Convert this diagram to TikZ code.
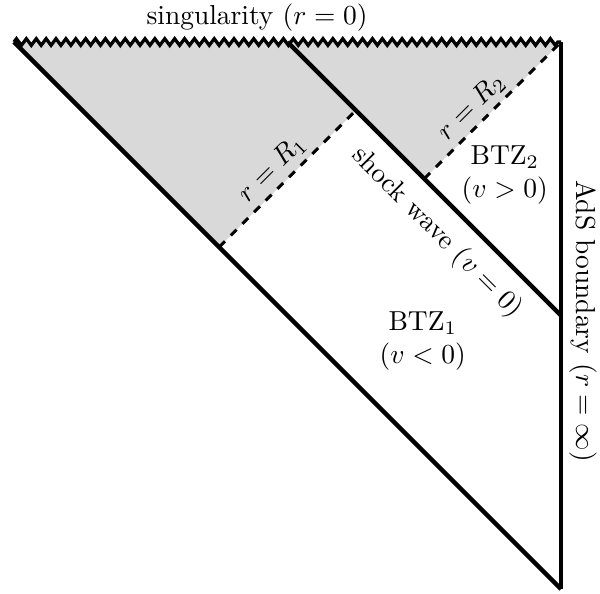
\documentclass[tikz,border=0pt]{standalone}
\usepackage{amsmath}
\usetikzlibrary{decorations.pathmorphing}
\definecolor{pdShade}{HTML}{D9D9D9}
\tikzset{
  pdline/.style={line width=1.6pt, black},
  edgeline/.style={line width=1.8pt, black},
  horizon/.style={line width=1.1pt, dashed, black},
  singular/.style={line width=1.2pt, decorate,
    decoration={zigzag, segment length=3.6pt, amplitude=1.2pt}},
  shaded/.style={fill=pdShade},
  lbl/.style={font=\normalsize, inner sep=0pt},
  region/.style={lbl, align=center}
}
\begin{document}
\begin{tikzpicture}
  \useasboundingbox (-0.179,-7.051) rectangle (7.499,0.5375);
  % corners of the diagram
  \coordinate (tl) at (0,0);
  \coordinate (tr) at (7,0);
  \coordinate (bot) at (7,-7);
  \coordinate (swtop) at (3.5,0);
  \coordinate (swend) at (7,-3.5);
  \coordinate (hza) at (2.625,-2.625);
  \coordinate (hzb) at (4.375,-0.875);
  \coordinate (hzc) at (5.25,-1.75);
  % shaded parts
  \fill[shaded] (tl) -- (hza) -- (hzb) -- (swtop) -- cycle;
  \fill[shaded] (swtop) -- (hzc) -- (tr) -- cycle;
  % r = R lines
  \draw[horizon] (hza) -- (hzb);
  \draw[horizon] (hzc) -- (tr);
  % light rays, boundary, singularity
  \draw[pdline] (tl) -- (bot);
  \draw[pdline] (swtop) -- (swend);
  \draw[edgeline] (tr) -- (bot);
  \draw[singular] (tl) -- (tr);
  % labels
  \node[lbl] (sing) at (3.11,0.31) {singularity ($r=0$)};
  \node[lbl, rotate=-90] (ads) at (7.28,-3.57) {AdS boundary ($r=\infty$)};
  \node[lbl, rotate=45] (rone) at (3.30,-1.62) {$r=R_1$};
  \node[lbl, rotate=45] (rtwo) at (5.85,-0.83) {$r=R_2$};
  \node[lbl, rotate=-45] (shock) at (5.41,-2.44) {shock wave ($v=0$)};
  \node[region] (btztwo) at (6.28,-1.70) {BTZ$_2$\\($v>0$)};
  \node[region] (btzone) at (5.23,-3.83) {BTZ$_1$\\($v<0$)};
\end{tikzpicture}
\end{document}
